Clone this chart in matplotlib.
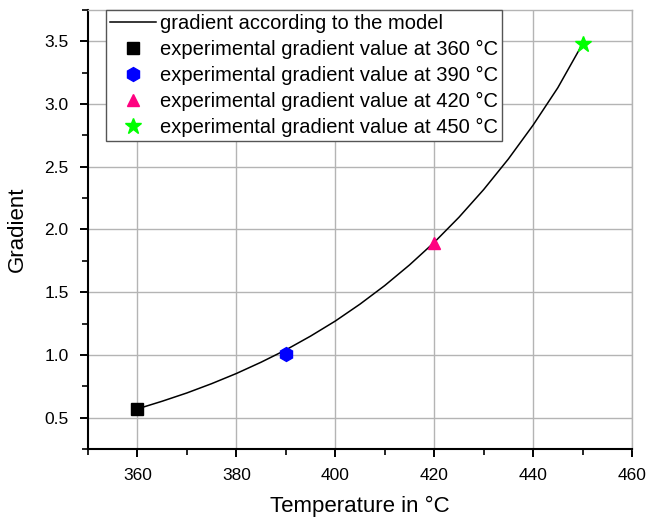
import numpy as np
import matplotlib.pyplot as plt
from matplotlib.ticker import MultipleLocator

plt.rcParams['font.family'] = ['Liberation Sans', 'DejaVu Sans']

# model curve
model_T = [360, 365, 370, 375, 380, 385, 390, 395, 400, 405, 410,
           415, 420, 425, 430, 435, 440, 445, 450]
model_grad = [0.57, 0.631, 0.697, 0.771, 0.852, 0.942, 1.04, 1.15, 1.27, 1.405,
              1.553, 1.717, 1.897, 2.097, 2.318, 2.562, 2.832, 3.13, 3.48]

# experimental points
exp_T = [360, 390, 420, 450]
exp_grad = [0.57, 1.01, 1.89, 3.48]
exp_labels = ['experimental gradient value at 360 °C',
              'experimental gradient value at 390 °C',
              'experimental gradient value at 420 °C',
              'experimental gradient value at 450 °C']
markers = ['s', 'h', '^', '*']
colors = ['black', '#0000ff', '#ff0080', '#00ff00']
sizes = [8, 10, 9, 12]

fig = plt.figure(figsize=(6.49, 5.17), dpi=100)
ax = fig.add_axes([0.1356, 0.1315, 0.8382, 0.8492])

ax.plot(model_T, model_grad, color='black', lw=1.1,
        label='gradient according to the model', zorder=3)
for t, g, lab, m, c, s in zip(exp_T, exp_grad, exp_labels, markers, colors, sizes):
    ax.plot([t], [g], linestyle='none', marker=m, color=c, markersize=s,
            label=lab, zorder=4)

ax.set_xlim(350, 460)
ax.set_ylim(0.25, 3.75)
ax.xaxis.set_minor_locator(MultipleLocator(10))
ax.yaxis.set_minor_locator(MultipleLocator(0.25))
ax.set_xticks([360, 380, 400, 420, 440, 460])
ax.set_yticks([0.5, 1.0, 1.5, 2.0, 2.5, 3.0, 3.5])
ax.set_yticklabels(['0.5', '1.0', '1.5', '2.0', '2.5', '3.0', '3.5'])

ax.grid(True, which='major', color='#b4b4b4', lw=1.0)
ax.set_axisbelow(True)
ax.tick_params(which='major', direction='out', length=6, width=1.4, labelsize=12.5, pad=8)
ax.tick_params(which='minor', direction='out', length=4, width=1.2)
ax.tick_params(top=False, right=False, which='both')

for side in ['left', 'bottom']:
    ax.spines[side].set_linewidth(1.5)
    ax.spines[side].set_color('black')
for side in ['top', 'right']:
    ax.spines[side].set_color('#b4b4b4')
    ax.spines[side].set_linewidth(1.0)

ax.set_xlabel('Temperature in °C', fontsize=16, labelpad=9)
ax.set_ylabel('Gradient', fontsize=16, labelpad=12)

leg = ax.legend(loc='upper left', bbox_to_anchor=(0.0325, 1.0), borderaxespad=0,
                fontsize=14.5, frameon=True, fancybox=False, framealpha=1,
                edgecolor='#555555', handlelength=2.3, handletextpad=0.2,
                labelspacing=0.34, borderpad=0.2)
leg.get_frame().set_linewidth(1.0)

fig.savefig('out.png', dpi=100)
